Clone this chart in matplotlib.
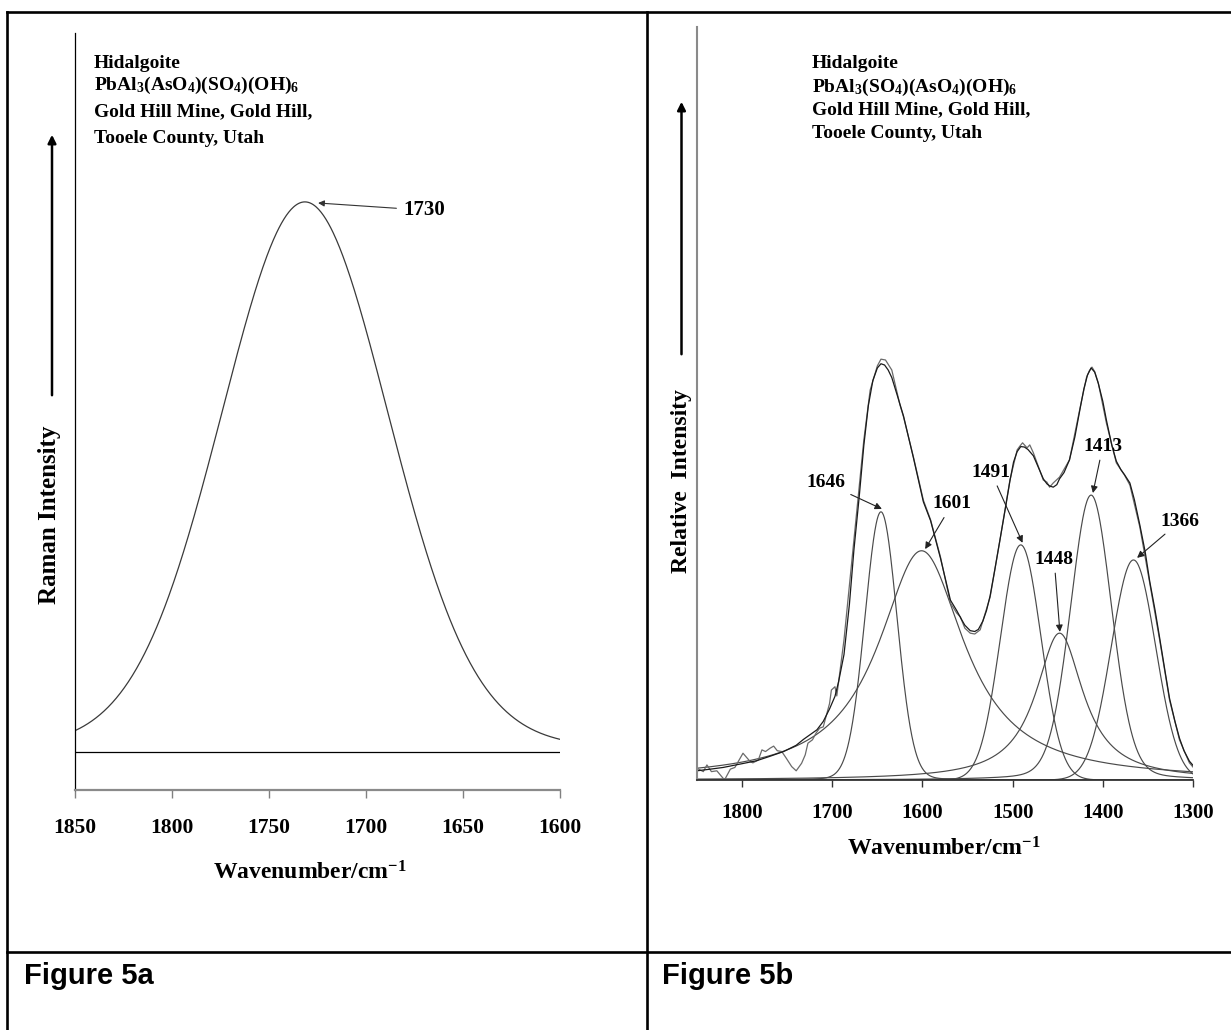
import numpy as np
import matplotlib.pyplot as plt
from matplotlib.lines import Line2D
from matplotlib.patches import FancyArrowPatch

# ---- Figure 5a: single band at 1730 cm-1 ----
a_xticks = [1850, 1800, 1750, 1700, 1650, 1600]
a_center = 1731.5
a_height = 1.0
a_fwhm = 103
a_eta = 0.1

# ---- Figure 5b: fitted bands ----
b_xticks = [1800, 1700, 1600, 1500, 1400, 1300]
b_centers = [1646, 1601, 1491, 1448, 1413, 1366]
b_heights = [0.641, 0.548, 0.562, 0.351, 0.681, 0.526]
b_fwhm = [42, 116, 53, 64, 54, 58]
b_eta = [0.05, 1.0, 0.0, 1.0, 0.15, 0.0]
b_labels = ['1646', '1601', '1491', '1448', '1413', '1366']
b_label_pos = [(1707, 0.710), (1567, 0.660), (1524, 0.736),
               (1454, 0.528), (1400, 0.798), (1314, 0.619)]
b_label_tip = [(1645, 0.648), (1597, 0.552), (1489, 0.567),
               (1447.6, 0.354), (1411, 0.686), (1362, 0.531)]

meas_wn = [1850, 1843, 1839, 1834, 1828, 1821, 1819, 1813, 1808, 1799,
           1791, 1788, 1782, 1778, 1774, 1769, 1765, 1761, 1756, 1751,
           1745, 1740, 1734, 1730, 1727, 1722, 1718, 1714, 1710, 1707,
           1703, 1701, 1697, 1695, 1687, 1676, 1665, 1658, 1650, 1646,
           1641, 1634, 1628, 1625, 1621, 1610, 1599, 1591, 1580, 1569,
           1562, 1558, 1553, 1547, 1542, 1536, 1525, 1514, 1503, 1495,
           1492, 1489, 1484, 1481, 1477, 1466, 1462, 1459, 1455, 1448,
           1437, 1425, 1418, 1415, 1412, 1409, 1405, 1396, 1385, 1376,
           1370, 1359, 1348, 1337, 1326, 1315, 1304, 1300]
meas_int = [0.028, 0.020, 0.036, 0.020, 0.022, 0.004, 0.002, 0.026, 0.030, 0.064,
            0.044, 0.041, 0.048, 0.072, 0.068, 0.076, 0.081, 0.070, 0.068, 0.052,
            0.032, 0.022, 0.040, 0.060, 0.088, 0.096, 0.112, 0.124, 0.127, 0.151,
            0.183, 0.215, 0.223, 0.201, 0.335, 0.574, 0.813, 0.932, 0.990, 1.006,
            1.004, 0.980, 0.925, 0.897, 0.868, 0.772, 0.669, 0.622, 0.533, 0.423,
            0.399, 0.390, 0.363, 0.351, 0.349, 0.359, 0.437, 0.574, 0.717, 0.789,
            0.798, 0.806, 0.794, 0.801, 0.782, 0.717, 0.712, 0.700, 0.710, 0.724,
            0.765, 0.892, 0.963, 0.978, 0.987, 0.976, 0.949, 0.853, 0.758, 0.729,
            0.705, 0.605, 0.471, 0.335, 0.191, 0.096, 0.041, 0.031]

# fitted envelope
fit_wn = [1850, 1835, 1821, 1800, 1784, 1770, 1754, 1740, 1732, 1717,
          1710, 1703, 1697, 1693, 1687, 1681, 1676, 1670, 1665, 1660,
          1655, 1650, 1646, 1642, 1638, 1634, 1628, 1621, 1610, 1599,
          1591, 1580, 1569, 1562, 1557, 1553, 1547, 1542, 1538, 1533,
          1529, 1525, 1520, 1514, 1508, 1503, 1499, 1495, 1491, 1487,
          1483, 1477, 1472, 1466, 1462, 1459, 1455, 1451, 1448, 1443,
          1437, 1431, 1425, 1421, 1417, 1413, 1409, 1405, 1400, 1396,
          1390, 1385, 1380, 1376, 1370, 1365, 1359, 1353, 1348, 1342,
          1337, 1331, 1326, 1320, 1315, 1310, 1304, 1300]
fit_int = [0.022, 0.026, 0.030, 0.039, 0.046, 0.056, 0.068, 0.083, 0.097, 0.120,
           0.140, 0.170, 0.200, 0.235, 0.300, 0.420, 0.550, 0.680, 0.800, 0.895,
           0.955, 0.985, 0.995, 0.992, 0.980, 0.962, 0.920, 0.870, 0.770, 0.665,
           0.620, 0.530, 0.430, 0.405, 0.385, 0.370, 0.357, 0.355, 0.360, 0.380,
           0.405, 0.440, 0.500, 0.575, 0.650, 0.715, 0.760, 0.785, 0.797, 0.796,
           0.790, 0.775, 0.750, 0.720, 0.708, 0.703, 0.700, 0.706, 0.720, 0.735,
           0.765, 0.820, 0.890, 0.935, 0.968, 0.985, 0.975, 0.948, 0.905, 0.860,
           0.800, 0.762, 0.742, 0.730, 0.710, 0.670, 0.610, 0.545, 0.475, 0.405,
           0.340, 0.260, 0.195, 0.140, 0.100, 0.070, 0.045, 0.035]

sample_lines_a = ['Hidalgoite', r'PbAl$_3$(AsO$_4$)(SO$_4$)(OH)$_6$',
                  'Gold Hill Mine, Gold Hill,', 'Tooele County, Utah']
sample_lines_b = ['Hidalgoite', r'PbAl$_3$(SO$_4$)(AsO$_4$)(OH)$_6$',
                  'Gold Hill Mine, Gold Hill,', 'Tooele County, Utah']


def pseudo_voigt(x, center, height, fwhm, eta):
    d = (x - center) / (fwhm / 2.0)
    return height * (eta / (1 + d ** 2) + (1 - eta) * np.exp(-np.log(2) * d ** 2))


plt.rcParams['font.family'] = 'Liberation Serif'
plt.rcParams['font.weight'] = 'bold'
plt.rcParams['mathtext.fontset'] = 'custom'
plt.rcParams['mathtext.rm'] = 'Liberation Serif:bold'
plt.rcParams['mathtext.bf'] = 'Liberation Serif:bold'
plt.rcParams['mathtext.it'] = 'Liberation Serif:bold'
plt.rcParams['mathtext.default'] = 'bf'

W, H = 1231, 1030
fig = plt.figure(figsize=(W / 100, H / 100), dpi=100)


def fx(px):
    return px / W


def fy(py):
    return 1 - py / H


# table frame
frame_kw = dict(color='black', lw=1.9, transform=fig.transFigure)
fig.add_artist(Line2D([fx(7), 1], [fy(12), fy(12)], **frame_kw))
fig.add_artist(Line2D([fx(7), fx(7)], [fy(12), 0], **frame_kw))
fig.add_artist(Line2D([fx(647), fx(647)], [fy(12), 0], **frame_kw))
fig.add_artist(Line2D([fx(7), 1], [fy(952), fy(952)], **frame_kw))

fig.text(fx(24), fy(984), 'Figure 5a', family='Liberation Sans', fontsize=21,
         fontweight='bold', va='baseline')
fig.text(fx(662), fy(984), 'Figure 5b', family='Liberation Sans', fontsize=21,
         fontweight='bold', va='baseline')

# ---------------- panel a ----------------
ax1 = fig.add_axes([fx(75), fy(790), (560 - 75) / W, (790 - 33) / H])
x1 = np.linspace(1850, 1600, 600)
ax1.plot(x1, pseudo_voigt(x1, a_center, a_height, a_fwhm, a_eta), color='#3a3a3a', lw=0.9)
ax1.axhline(0, color='black', lw=0.9)
ax1.set_xlim(1850, 1600)
ax1.set_ylim(-0.069, 1.307)
ax1.set_yticks([])
ax1.set_xticks(a_xticks)
ax1.set_xticklabels([str(t) for t in a_xticks], fontsize=15.5, fontweight='bold')
ax1.tick_params(axis='x', length=5.8, width=1, color='#808080', pad=14.5)
for s in ['top', 'right']:
    ax1.spines[s].set_visible(False)
ax1.spines['left'].set_color('black')
ax1.spines['left'].set_linewidth(0.9)
ax1.spines['bottom'].set_color('#8a8a8a')
ax1.spines['bottom'].set_linewidth(1.6)
ax1.annotate('1730', xy=(1724.7, 0.998), xytext=(1670, 0.985),
             fontsize=15, fontweight='bold', ha='center', va='center',
             arrowprops=dict(arrowstyle='-|>', color='#333333', lw=0.8,
                             mutation_scale=9, shrinkA=3, shrinkB=0))

for i, line in enumerate(sample_lines_a):
    fig.text(fx(94), fy([68.5, 90, 116.5, 143][i]), line, fontsize=14,
             fontweight='bold', va='baseline')

fig.text(fx(50), fy(515), 'Raman Intensity', fontsize=18, fontweight='bold',
         rotation=90, ha='center', va='center')
fig.add_artist(FancyArrowPatch(
    (fx(52), fy(398)), (fx(52), fy(132)), transform=fig.transFigure,
    arrowstyle='-|>', mutation_scale=12, lw=1.8, color='black'))

# ---------------- panel b ----------------
ax2 = fig.add_axes([fx(697), fy(780), (1193 - 697) / W, (780 - 27) / H])
x2 = np.linspace(1850, 1300, 1100)
for c, h, w, e in zip(b_centers, b_heights, b_fwhm, b_eta):
    ax2.plot(x2, pseudo_voigt(x2, c, h, w, e), color='#4a4a4a', lw=0.85)
ax2.plot(meas_wn, meas_int, color='#6a6a6a', lw=0.9)
ax2.plot(fit_wn, fit_int, color='#1a1a1a', lw=0.9)
ax2.set_xlim(1850, 1300)
ax2.set_ylim(0, 1.8)
ax2.set_yticks([])
ax2.set_xticks(b_xticks)
ax2.set_xticklabels([str(t) for t in b_xticks], fontsize=15, fontweight='bold')
ax2.tick_params(axis='x', length=5, width=1, color='#333333', pad=11.5)
for s in ['top', 'right']:
    ax2.spines[s].set_visible(False)
ax2.spines['left'].set_color('#8a8a8a')
ax2.spines['left'].set_linewidth(1.5)
ax2.spines['bottom'].set_color('#333333')
ax2.spines['bottom'].set_linewidth(1.3)

for lab, pos, tip in zip(b_labels, b_label_pos, b_label_tip):
    ax2.annotate(lab, xy=tip, xytext=pos, fontsize=14, fontweight='bold',
                 ha='center', va='center',
                 arrowprops=dict(arrowstyle='-|>', color='#222222', lw=0.8,
                                 mutation_scale=10, shrinkA=2, shrinkB=0))

for i, line in enumerate(sample_lines_b):
    fig.text(fx(812), fy([68.5, 91.5, 114.5, 137.5][i]), line, fontsize=14,
             fontweight='bold', va='baseline')

fig.text(fx(681), fy(481), 'Relative  Intensity', fontsize=17, fontweight='bold',
         rotation=90, ha='center', va='center')
fig.add_artist(FancyArrowPatch(
    (fx(681.5), fy(357)), (fx(681.5), fy(99)), transform=fig.transFigure,
    arrowstyle='-|>', mutation_scale=12, lw=1.8, color='black'))

fig.text(fx(310), fy(880), r'Wavenumber/cm$^{\mathbf{-1}}$', fontsize=17,
         fontweight='bold', ha='center', va='baseline')
fig.text(fx(944), fy(856), r'Wavenumber/cm$^{\mathbf{-1}}$', fontsize=17,
         fontweight='bold', ha='center', va='baseline')

fig.savefig('out.png', dpi=100)
